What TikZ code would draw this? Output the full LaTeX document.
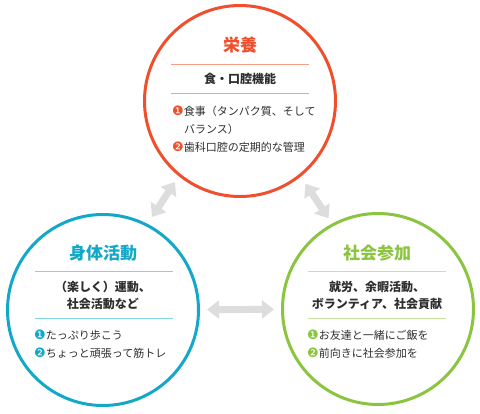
\documentclass[tikz,border=0pt]{standalone}
\usepackage{fontspec}
\usepackage{xcolor}
\usetikzlibrary{arrows.meta, positioning}
\setmainfont{Noto Sans CJK JP}
\newfontfamily\dingfont{DejaVu Sans}
\definecolor{eiyored}{HTML}{EF4F2C}
\definecolor{eiyolight}{HTML}{F6A08A}
\definecolor{undoblue}{HTML}{14A8C8}
\definecolor{undolight}{HTML}{82D6E6}
\definecolor{shakaigreen}{HTML}{8BC53F}
\definecolor{shakailight}{HTML}{C5E39C}
\definecolor{textgray}{HTML}{2E2E2E}
\definecolor{arrowgray}{HTML}{DDDDDD}
\newcommand\bul[2]{{\color{#1}\dingfont\fontsize{13}{13}\selectfont #2}}

\begin{document}
\begin{tikzpicture}[
    x=1pt, y=-1pt,
    ring/.style={draw=#1, line width=3pt, circle, minimum size=191pt, inner sep=0pt},
    title/.style={text=#1, font=\fontsize{17}{19}\selectfont\bfseries},
    sub/.style={text=textgray, font=\fontsize{12}{17}\selectfont\bfseries, align=center},
    item/.style={text=textgray, font=\fontsize{11}{13}\selectfont, anchor=west, inner sep=0pt},
    rule/.style={draw=#1, line width=1pt},
    link/.style={draw=arrowgray, line width=7pt, {Triangle[width=18pt,length=12pt]}-{Triangle[width=18pt,length=12pt]}, shorten <=7pt, shorten >=7pt},
]
    \useasboundingbox (0,0) rectangle (480,413);

    % Circles
    \node[ring=eiyored] (eiyo) at (240,101) {};
    \node[ring=undoblue] (undo) at (103,310) {};
    \node[ring=shakaigreen] (shakai) at (378,309) {};

    % Links
    \draw[link, transform canvas={shift={(-8,-6)}}] (eiyo) -- (undo);
    \draw[link, transform canvas={shift={(8,-4)}}] (eiyo) -- (shakai);
    \draw[link] (undo) -- (shakai);

    % Eiyo
    \node[title=eiyored] (eiyotitle) at (240,45) {栄養};
    \draw[rule=eiyolight] (171,64) -- (309,64);
    \node[sub] (eiyosub) at (240,79) {食・口腔機能};
    \draw[rule=eiyolight] (171,93) -- (309,93);
    \node[item] (eiyoa) at (172,111) {\bul{eiyored}{❶}食事（タンパク質、そして};
    \node[item] (eiyob) at (184,129) {バランス）};
    \node[item] (eiyoc) at (172,147) {\bul{eiyored}{❷}歯科口腔の定期的な管理};

    % Undo
    \node[title=undoblue] (undotitle) at (103,253) {身体活動};
    \draw[rule=undolight] (35,271) -- (173,271);
    \node[sub] (undosub) at (103,295) {（楽しく）運動、\\社会活動など};
    \draw[rule=undolight] (35,318) -- (173,318);
    \node[item] (undoa) at (34,335) {\bul{undoblue}{❶}たっぷり歩こう};
    \node[item] (undob) at (34,353) {\bul{undoblue}{❷}ちょっと頑張って筋トレ};

    % Shakai
    \node[title=shakaigreen] (shakaititle) at (377,253) {社会参加};
    \draw[rule=shakailight] (308,271) -- (446,271);
    \node[sub] (shakaisub) at (377,295) {就労、余暇活動、\\ボランティア、社会貢献};
    \draw[rule=shakailight] (308,318) -- (446,318);
    \node[item] (shakaia) at (307,335) {\bul{shakaigreen}{❶}お友達と一緒にご飯を};
    \node[item] (shakaib) at (307,353) {\bul{shakaigreen}{❷}前向きに社会参加を};
\end{tikzpicture}
\end{document}
